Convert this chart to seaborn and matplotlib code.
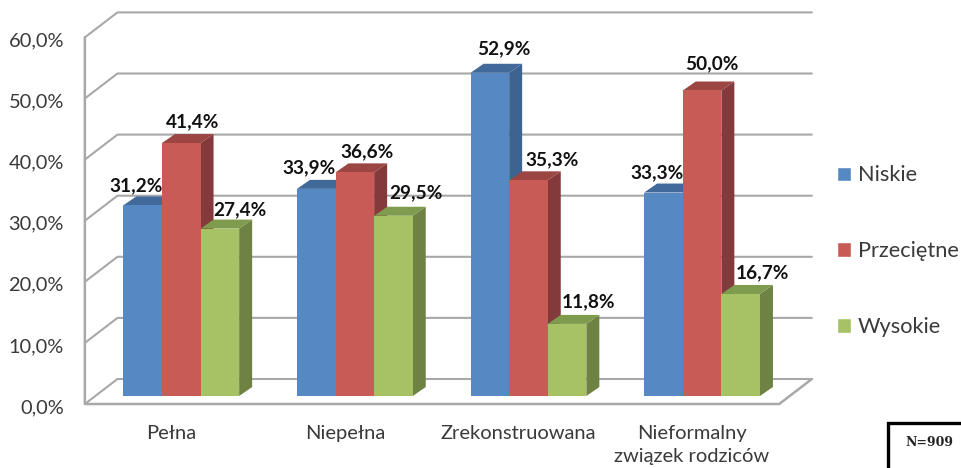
import matplotlib
matplotlib.use("Agg")
import matplotlib.pyplot as plt
import pandas as pd
import seaborn as sns
from matplotlib.patches import Polygon, Rectangle
from matplotlib.transforms import Affine2D, IdentityTransform

# values
categories = ["Pełna", "Niepełna", "Zrekonstruowana", "Nieformalny\nzwiązek rodziców"]
series = ["Niskie", "Przeciętne", "Wysokie"]
niskie = [31.2, 33.9, 52.9, 33.3]
przecietne = [41.4, 36.6, 35.3, 50.0]
wysokie = [27.4, 29.5, 11.8, 16.7]
y_ticks = [0, 10, 20, 30, 40, 50, 60]

front_colors = ["#5688C3", "#C95B57", "#A6C265"]
side_colors = ["#3D6490", "#84393A", "#6E8243"]
top_colors = ["#41699A", "#9C4644", "#7F9B4E"]
grid_color = "#A8A8A8"
text_color = "#3A3A3A"

# label shift from bar centre / bar top, in pixels
label_shift = [
    [(-7, 20), (-7, 21), (14, 24), (-6, 20)],
    [(11, 21), (12, 21), (24, 21), (10, 27)],
    [(20, 19), (22, 23), (21, 22), (22, 21)],
]

sns.set_style("white")
plt.rcParams["font.family"] = ["Lato", "DejaVu Sans"]

df = pd.DataFrame({
    "kategoria": categories * 3,
    "poziom": [s for s in series for _ in categories],
    "wartosc": niskie + przecietne + wysokie,
})

fig = plt.figure(figsize=(9.61, 4.68), dpi=100)
ax = fig.add_axes([94.45 / 961, 72 / 468, 694.4 / 961, 366.6 / 468])
sns.barplot(data=df, x="kategoria", y="wartosc", hue="poziom", hue_order=series,
            palette=front_colors, saturation=1, width=0.667, gap=0, ax=ax, zorder=5)
ax.set_xlim(-0.5, 3.5)
ax.set_ylim(0, 60)
ax.set_xlabel("")
ax.set_ylabel("")
sns.despine(ax=ax, left=True, bottom=True)
ax.patch.set_alpha(0)
fig.canvas.draw()

pixel = IdentityTransform()


def shifted(x, y, dx, dy):
    px, py = ax.transData.transform((x, y))
    return px + dx, py + dy


# walls and floor
front = (-9.6, -8)
back = (23, 17)
x0, x1 = ax.get_xlim()
for v in y_ticks:
    ax.add_line(plt.Line2D(*zip(shifted(x0, v, *front), shifted(x0, v, *back), shifted(x1, v, *back)),
                           transform=pixel, color=grid_color, lw=1.5, zorder=1, clip_on=False))
ax.add_line(plt.Line2D(*zip(shifted(x0, 60, *front), shifted(x0, 0, *front), shifted(x1, 0, *front), shifted(x1, 0, *back)),
                       transform=pixel, color=grid_color, lw=1.8, zorder=1, clip_on=False))

# fake depth of the bars
depth = (13, 9)
for i, bars in enumerate(ax.containers):
    for j, bar in enumerate(bars):
        left, w, h = bar.get_x(), bar.get_width(), bar.get_height()
        bar.set_linewidth(0)
        side = [shifted(left + w, 0, 0, 0), shifted(left + w, h, 0, 0),
                shifted(left + w, h, *depth), shifted(left + w, 0, *depth)]
        top = [shifted(left, h, 0, 0), shifted(left + w, h, 0, 0),
               shifted(left + w, h, *depth), shifted(left, h, *depth)]
        ax.add_patch(Polygon(side, transform=pixel, color=side_colors[i], lw=0, zorder=2 + i * 0.1, clip_on=False))
        ax.add_patch(Polygon(top, transform=pixel, color=top_colors[i], lw=0, zorder=2 + i * 0.1, clip_on=False))
        dx, dy = label_shift[i][j]
        ax.annotate(f"{h:.1f}%".replace(".", ","), (left + w / 2, h), xytext=(dx * 0.72, dy * 0.72),
                    textcoords="offset points", ha="center", va="center", fontsize=13.7,
                    fontweight="bold", color="#111111", zorder=10, annotation_clip=False)

# axis labels
ax.set_yticks(y_ticks)
ax.set_yticklabels([f"{v:.1f}%".replace(".", ",") for v in y_ticks], fontsize=14.4, color=text_color)
ax.tick_params(axis="y", length=0, pad=22)
ax.tick_params(axis="x", length=0, pad=21)
for label in ax.get_yticklabels():
    label.set_transform(label.get_transform() + Affine2D().translate(0, -10))
ax.set_xticks(range(4))
ax.set_xticklabels(categories, fontsize=14.5, color=text_color, linespacing=1.42)
for label in ax.get_xticklabels():
    label.set_transform(label.get_transform() + Affine2D().translate(-10, 0))

handles, labels = ax.get_legend_handles_labels()
ax.legend(handles, labels, loc="center left", bbox_to_anchor=(837 / 961, 0.463), bbox_transform=fig.transFigure,
          frameon=False, fontsize=15.7, labelcolor=text_color, handlelength=0.64, handleheight=0.64,
          handletextpad=0.32, labelspacing=2.56, borderpad=0, borderaxespad=0)

# N box runs off the corner of the picture
fig.add_artist(Rectangle((887.5 / 961, -0.02), 0.1, (468 - 423) / 468 + 0.02, transform=fig.transFigure,
                         facecolor="white", edgecolor="black", lw=2.4))
fig.text(929 / 961, (468 - 443) / 468, "N=909", family="DejaVu Serif", fontweight="bold", fontsize=9,
         ha="center", va="center", color="#222222")

fig.savefig("out.png", dpi=100)
